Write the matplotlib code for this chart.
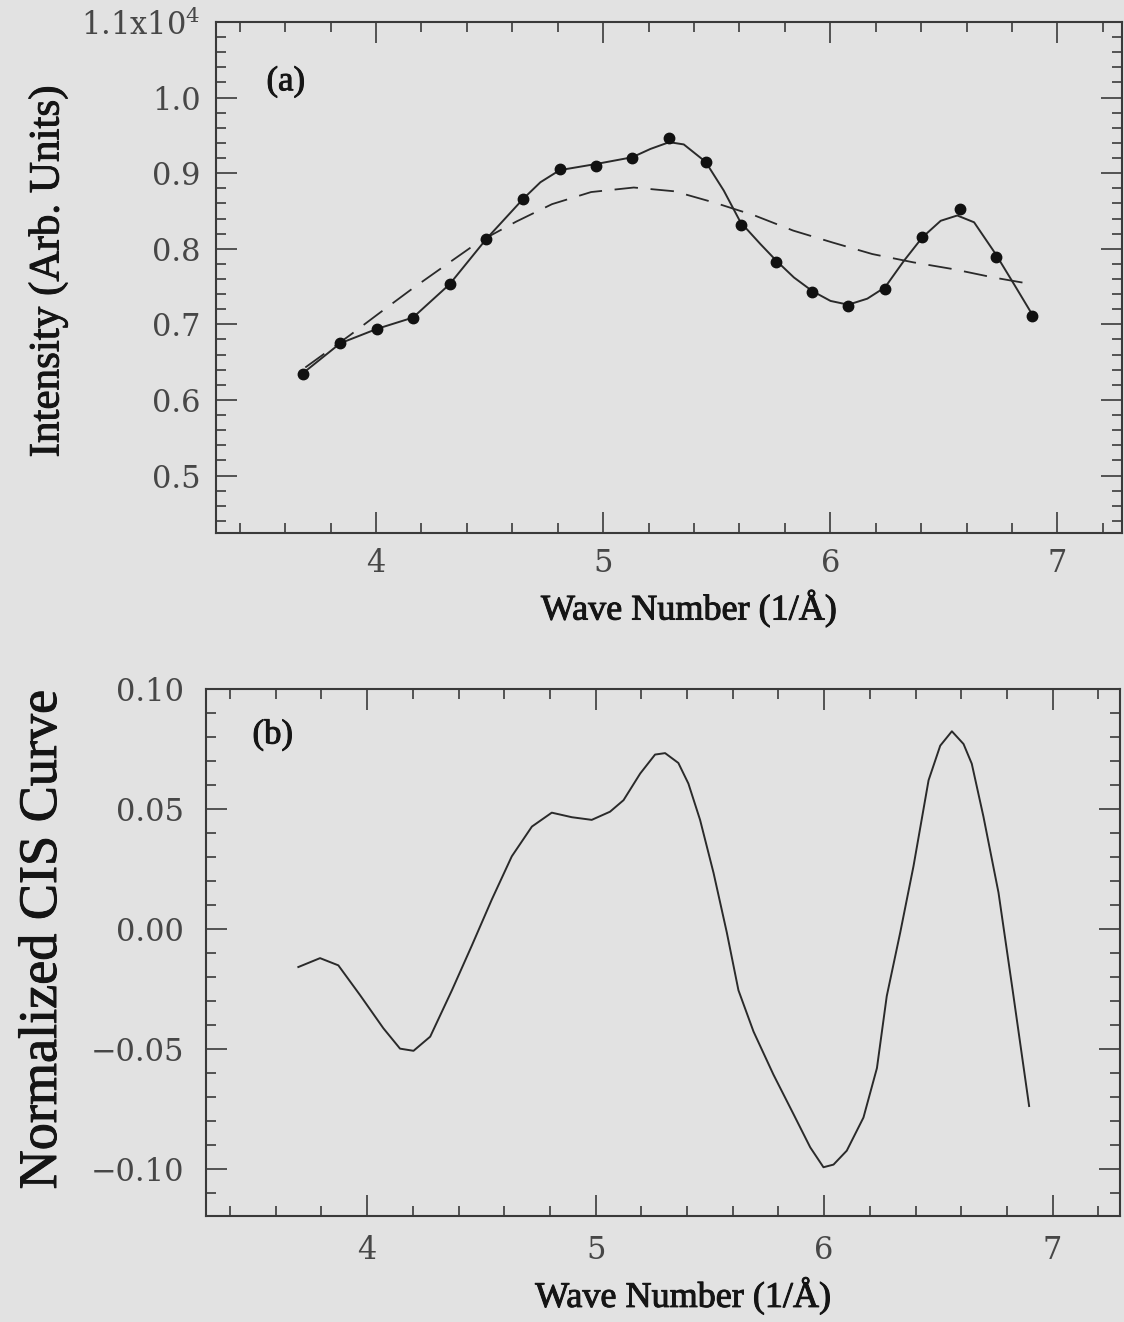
import matplotlib
matplotlib.use("Agg")
import matplotlib.pyplot as plt
import matplotlib.patheffects as pe
from matplotlib.ticker import MultipleLocator

plt.rcParams['mathtext.fontset'] = 'dejavuserif'

# ---------------- data: panel (a) ----------------
dot_k = [3.681, 3.843, 4.004, 4.163, 4.324, 4.486, 4.648, 4.809, 4.967, 5.128,
         5.291, 5.451, 5.605, 5.763, 5.921, 6.079, 6.241, 6.405, 6.570, 6.728, 6.887]
dot_i = [0.634, 0.675, 0.694, 0.708, 0.753, 0.813, 0.866, 0.905, 0.910, 0.920,
         0.946, 0.915, 0.832, 0.783, 0.743, 0.724, 0.747, 0.816, 0.852, 0.789, 0.711]

fit_k = [3.681, 3.843, 4.004, 4.163, 4.324, 4.486, 4.648, 4.724, 4.809, 4.967,
         5.128, 5.208, 5.291, 5.355, 5.451, 5.531, 5.605, 5.693, 5.763, 5.840,
         5.921, 6.001, 6.079, 6.163, 6.241, 6.324, 6.405, 6.486, 6.559, 6.633,
         6.728, 6.809, 6.887]
fit_i = [0.636, 0.675, 0.694, 0.709, 0.753, 0.813, 0.866, 0.888, 0.904, 0.912,
         0.921, 0.932, 0.941, 0.938, 0.915, 0.877, 0.835, 0.806, 0.784, 0.762,
         0.744, 0.731, 0.726, 0.734, 0.749, 0.784, 0.815, 0.837, 0.844, 0.835,
         0.793, 0.753, 0.714]

bg_k = [3.689, 3.887, 4.011, 4.159, 4.305, 4.452, 4.618, 4.775, 4.947, 5.135,
        5.314, 5.490, 5.667, 5.837, 6.013, 6.185, 6.366, 6.542, 6.718, 6.890]
bg_i = [0.643, 0.686, 0.714, 0.747, 0.778, 0.809, 0.836, 0.859, 0.875, 0.881,
        0.876, 0.861, 0.844, 0.824, 0.808, 0.793, 0.782, 0.773, 0.762, 0.753]

a_yticks = [0.5, 0.6, 0.7, 0.8, 0.9, 1.0, 1.1]
a_ylabels = ['0.5', '0.6', '0.7', '0.8', '0.9', '1.0', '1.1x10$^4$']

# ---------------- data: panel (b) ----------------
cis_k = [3.699, 3.794, 3.874, 3.969, 4.071, 4.144, 4.203, 4.276, 4.371, 4.458,
         4.546, 4.633, 4.721, 4.808, 4.896, 4.983, 5.063, 5.122, 5.195, 5.260,
         5.304, 5.362, 5.406, 5.457, 5.516, 5.574, 5.625, 5.691, 5.778, 5.866,
         5.939, 5.997, 6.041, 6.099, 6.172, 6.231, 6.274, 6.333, 6.391, 6.457,
         6.508, 6.559, 6.610, 6.646, 6.697, 6.763, 6.825, 6.897]
cis_v = [-0.0158, -0.0121, -0.0151, -0.0275, -0.0413, -0.0498, -0.0507, -0.0448, -0.0255, -0.0069,
         0.0124, 0.0303, 0.0427, 0.0485, 0.0466, 0.0455, 0.0489, 0.0537, 0.0648, 0.0727,
         0.0733, 0.0692, 0.0606, 0.0455, 0.0234, -0.0014, -0.0255, -0.0427, -0.0606, -0.0771,
         -0.0909, -0.0992, -0.0981, -0.0923, -0.0785, -0.0579, -0.0279, -0.0014, 0.0262, 0.0620,
         0.0764, 0.0824, 0.0771, 0.0689, 0.0469, 0.0152, -0.0255, -0.0737]

b_yticks = [-0.10, -0.05, 0.00, 0.05, 0.10]
b_ylabels = ['\u22120.10', '\u22120.05', '0.00', '0.05', '0.10']

x_ticks = [4, 5, 6, 7]
x_labels = ['4', '5', '6', '7']

# ---------------- style ----------------
BG = '#e2e2e2'
INK = '#2a2a2a'
TICKC = '#474747'
LABC = '#151515'

fig = plt.figure(figsize=(11.24, 13.22), dpi=100, facecolor=BG)
ax1 = fig.add_axes([0.1922, 0.5968, 0.806, 0.3866], facecolor=BG)
ax2 = fig.add_axes([0.1833, 0.0802, 0.8132, 0.3986], facecolor=BG)

# panel (a)
ax1.plot(fit_k, fit_i, color=INK, lw=1.4, solid_joinstyle='round')
ax1.plot(bg_k, bg_i, color=INK, lw=1.3, dashes=(13, 7))
ax1.plot(dot_k, dot_i, 'o', color='#111111', ms=7.5, mec='#111111')
ax1.set_xlim(3.296, 7.284)
ax1.set_ylim(0.424, 1.1)

# panel (b)
ax2.plot(cis_k, cis_v, color=INK, lw=1.4, solid_joinstyle='round')
ax2.set_xlim(3.295, 7.295)
ax2.set_ylim(-0.1195, 0.0995)

for ax in (ax1, ax2):
    for s in ax.spines.values():
        s.set_linewidth(1.5)
        s.set_color('#3a3a3a')
    ax.xaxis.set_minor_locator(MultipleLocator(0.2))
    ax.set_xticks(x_ticks, x_labels)
    ax.tick_params(which='both', direction='in', top=True, right=True,
                   color='#3a3a3a', width=1.2)
    ax.tick_params(which='major', length=15)
    ax.tick_params(which='minor', length=7.5)
    for lab in ax.get_xticklabels() + ax.get_yticklabels():
        lab.set_fontfamily('DejaVu Serif')
        lab.set_fontsize(22)
        lab.set_color(TICKC)

ax1.yaxis.set_minor_locator(MultipleLocator(0.02))
ax1.set_yticks(a_yticks, a_ylabels, fontfamily='DejaVu Serif', fontsize=22, color=TICKC)
ax1.tick_params(axis='y', which='major', pad=11)
ax1.tick_params(axis='x', which='major', pad=11)

ax2.yaxis.set_minor_locator(MultipleLocator(0.01))
ax2.set_yticks(b_yticks, b_ylabels, fontfamily='DejaVu Serif', fontsize=22, color=TICKC)
ax2.tick_params(axis='y', which='major', pad=16)
ax2.tick_params(axis='x', which='major', pad=14)

heavy = [pe.withStroke(linewidth=0.7, foreground=LABC)]
lab_font = dict(fontfamily='Liberation Serif', color=LABC, path_effects=heavy)
ax1.set_xlabel('Wave Number (1/\u00c5)', fontsize=26, **lab_font)
ax1.xaxis.set_label_coords(0.522, -0.113)
ax1.set_ylabel('Intensity (Arb. Units)', fontsize=31, **lab_font)
ax1.yaxis.set_label_coords(-0.164, 0.511)

ax2.set_xlabel('Wave Number (1/\u00c5)', fontsize=26, **lab_font)
ax2.xaxis.set_label_coords(0.522, -0.118)
ax2.set_ylabel('Normalized CIS Curve', fontsize=39, **lab_font)
ax2.yaxis.set_label_coords(-0.151, 0.524)

ax1.text(0.077, 0.883, '(a)', transform=ax1.transAxes, fontsize=25,
         ha='center', va='center', **lab_font)
ax2.text(0.073, 0.913, '(b)', transform=ax2.transAxes, fontsize=25,
         ha='center', va='center', **lab_font)

fig.savefig('out.png', dpi=100, facecolor=BG)
